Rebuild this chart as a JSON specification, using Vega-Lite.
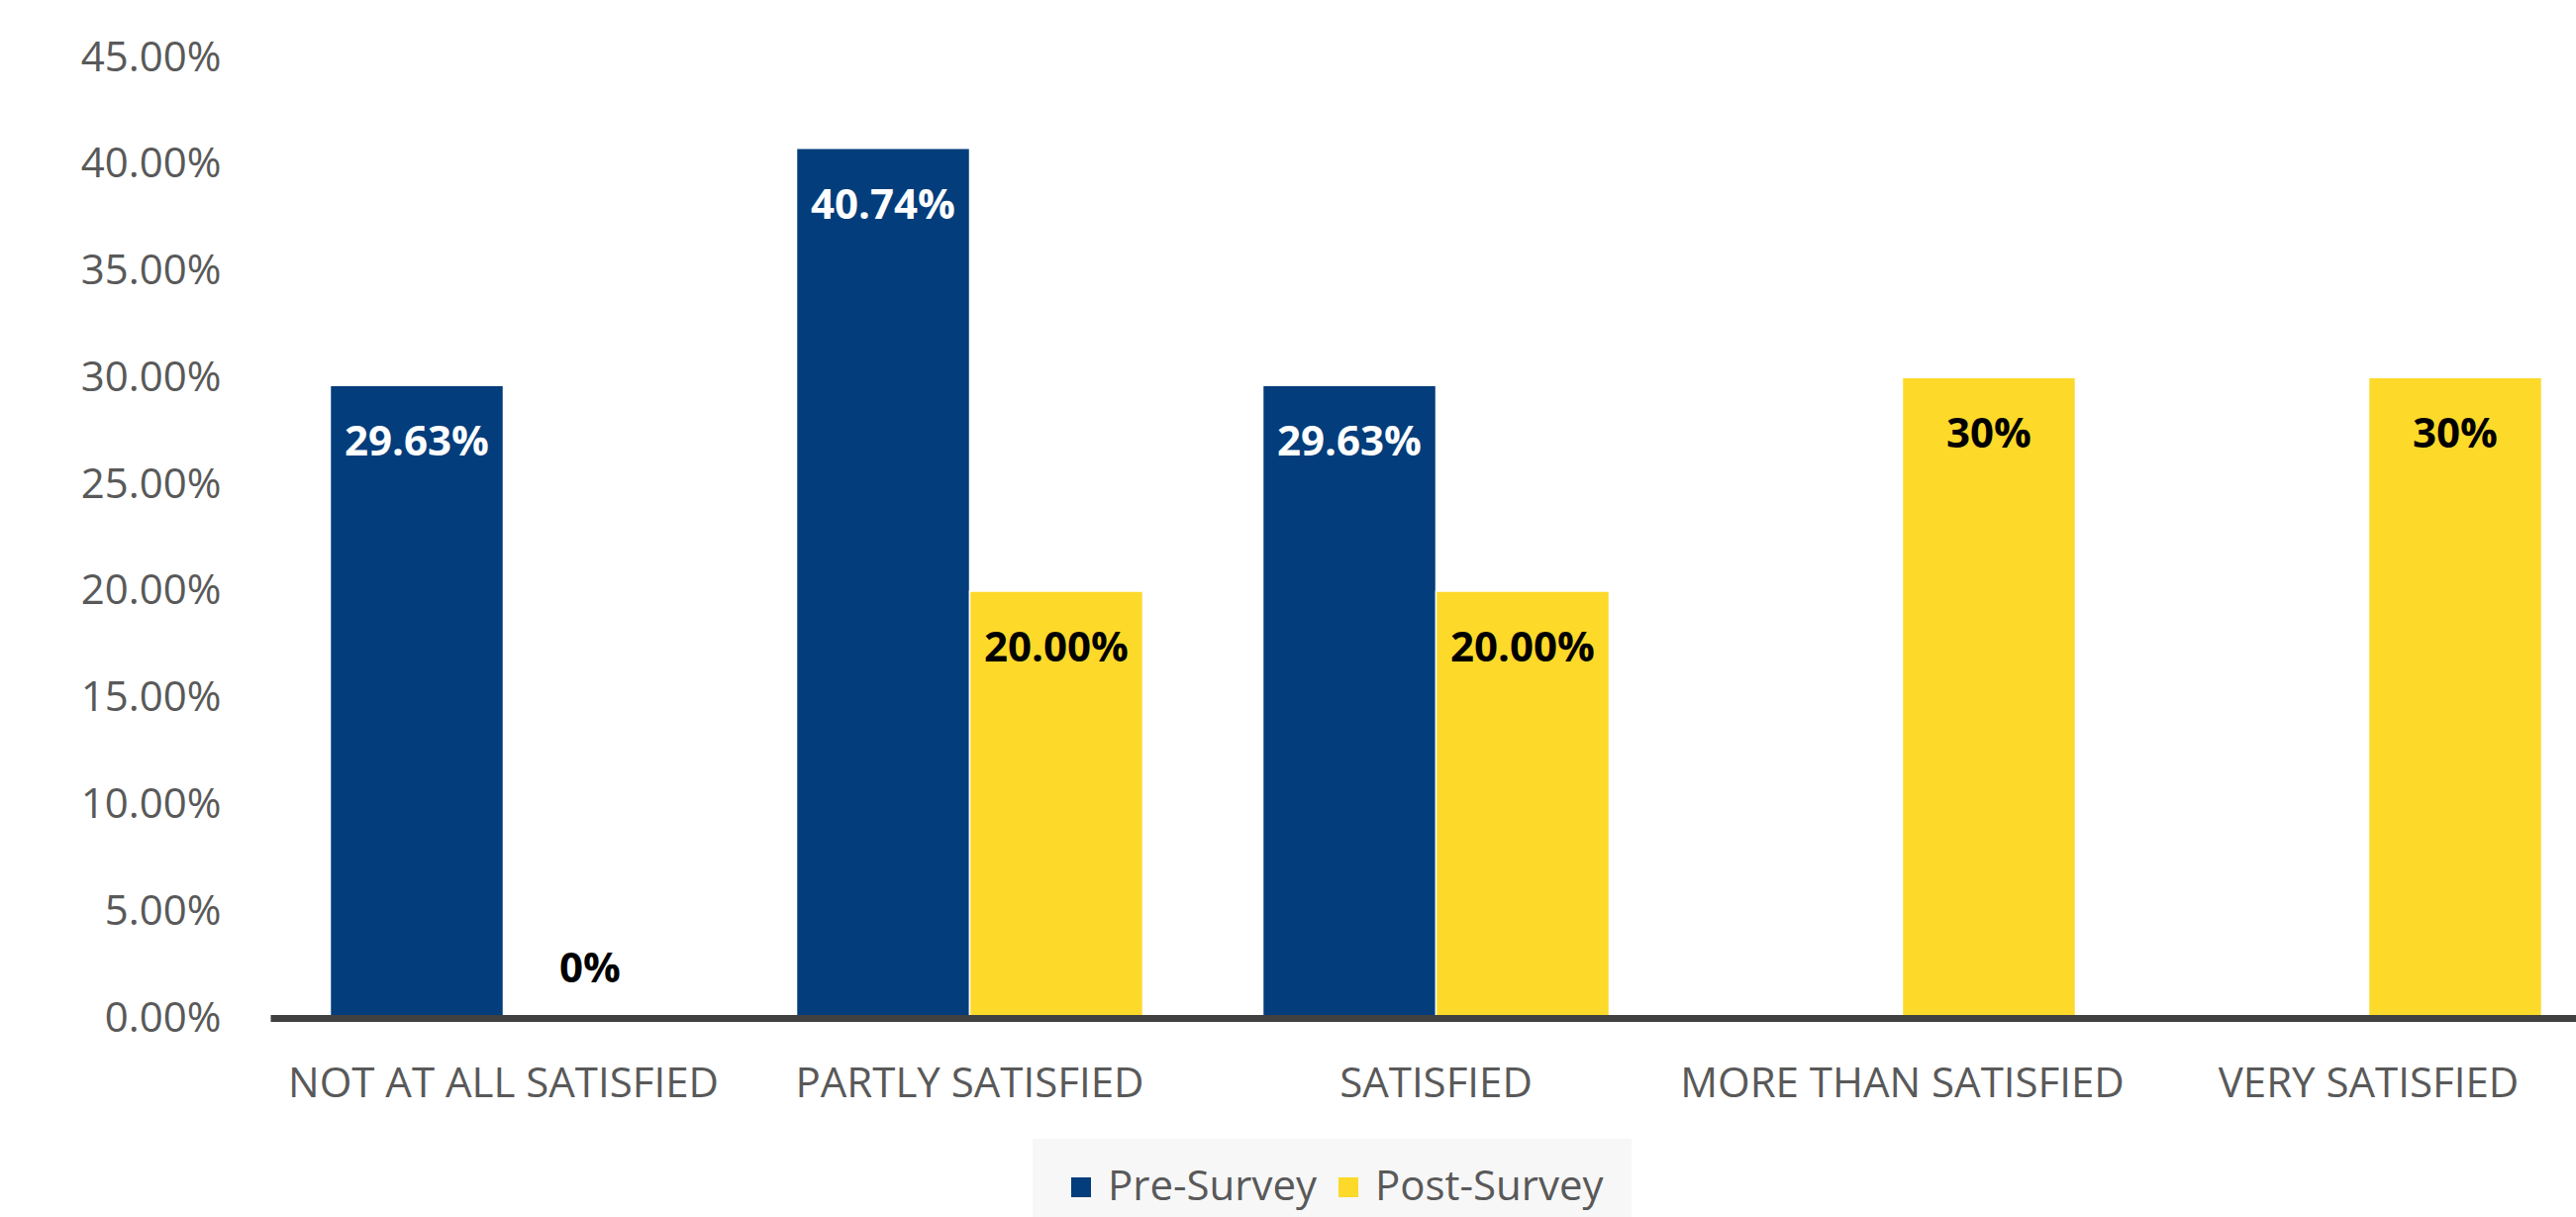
{
  "$schema": "https://vega.github.io/schema/vega-lite/v6.json",
  "autosize": {"type": "none"},
  "width": 2329,
  "height": 970,
  "padding": {"left": 273, "top": 58, "right": 0, "bottom": 201},
  "background": "white",
  "config": {
    "view": {"stroke": null},
    "font": "Open Sans"
  },
  "data": {
    "values": [
      {"category": "NOT AT ALL SATISFIED", "series": "Pre-Survey", "value": 0.2963, "label": "29.63%"},
      {"category": "NOT AT ALL SATISFIED", "series": "Post-Survey", "value": 0, "label": "0%"},
      {"category": "PARTLY SATISFIED", "series": "Pre-Survey", "value": 0.4074, "label": "40.74%"},
      {"category": "PARTLY SATISFIED", "series": "Post-Survey", "value": 0.2, "label": "20.00%"},
      {"category": "SATISFIED", "series": "Pre-Survey", "value": 0.2963, "label": "29.63%"},
      {"category": "SATISFIED", "series": "Post-Survey", "value": 0.2, "label": "20.00%"},
      {"category": "MORE THAN SATISFIED", "series": "Post-Survey", "value": 0.3, "label": "30%"},
      {"category": "VERY SATISFIED", "series": "Post-Survey", "value": 0.3, "label": "30%"}
    ]
  },
  "encoding": {
    "x": {
      "field": "category",
      "type": "nominal",
      "sort": ["NOT AT ALL SATISFIED", "PARTLY SATISFIED", "SATISFIED", "MORE THAN SATISFIED", "VERY SATISFIED"],
      "scale": {"range": [0, 2355], "paddingInner": 0.257, "paddingOuter": 0.1285},
      "axis": {
        "title": null,
        "labelAngle": 0,
        "labelFontSize": 42,
        "labelColor": "#595959",
        "labelPadding": 46,
        "labelLimit": 0,
        "labelOverlap": false,
        "ticks": false,
        "domainColor": "#404040",
        "domainWidth": 7,
        "zindex": 1
      }
    },
    "xOffset": {
      "field": "series",
      "type": "nominal",
      "scale": {"domain": ["Pre-Survey", "Post-Survey"]}
    },
    "y": {
      "field": "value",
      "type": "quantitative",
      "scale": {"domain": [0, 0.45]},
      "axis": {
        "title": null,
        "values": [0, 0.05, 0.1, 0.15, 0.2, 0.25, 0.3, 0.35, 0.4, 0.45],
        "format": ".2%",
        "grid": false,
        "domain": false,
        "ticks": false,
        "labelFontSize": 42,
        "labelColor": "#595959",
        "labelPadding": 50
      }
    }
  },
  "layer": [
    {
      "mark": {"type": "bar", "stroke": "white", "strokeWidth": 1.5},
      "encoding": {
        "color": {
          "field": "series",
          "type": "nominal",
          "scale": {"domain": ["Pre-Survey", "Post-Survey"], "range": ["#033d7b", "#fdd92a"]},
          "legend": {
            "title": null,
            "orient": "none",
            "direction": "horizontal",
            "legendX": 770,
            "legendY": 1092,
            "fillColor": "#f7f7f7",
            "padding": 28,
            "symbolType": "square",
            "symbolSize": 400,
            "symbolStrokeWidth": 0,
            "labelFontSize": 42,
            "labelColor": "#595959",
            "labelOffset": 6,
            "labelLimit": 0,
            "columnPadding": 10
          }
        }
      }
    },
    {
      "transform": [{"filter": "datum.series == 'Pre-Survey' && datum.value > 0"}],
      "mark": {"type": "text", "baseline": "middle", "dy": 58, "fontSize": 42, "fontWeight": "bold", "color": "white"},
      "encoding": {"text": {"field": "label"}}
    },
    {
      "transform": [{"filter": "datum.series == 'Post-Survey' && datum.value > 0"}],
      "mark": {"type": "text", "baseline": "middle", "dy": 58, "fontSize": 42, "fontWeight": "bold", "color": "black"},
      "encoding": {"text": {"field": "label"}}
    },
    {
      "transform": [{"filter": "datum.value == 0"}],
      "mark": {"type": "text", "baseline": "middle", "dy": -49, "fontSize": 42, "fontWeight": "bold", "color": "black"},
      "encoding": {"text": {"field": "label"}}
    }
  ]
}
